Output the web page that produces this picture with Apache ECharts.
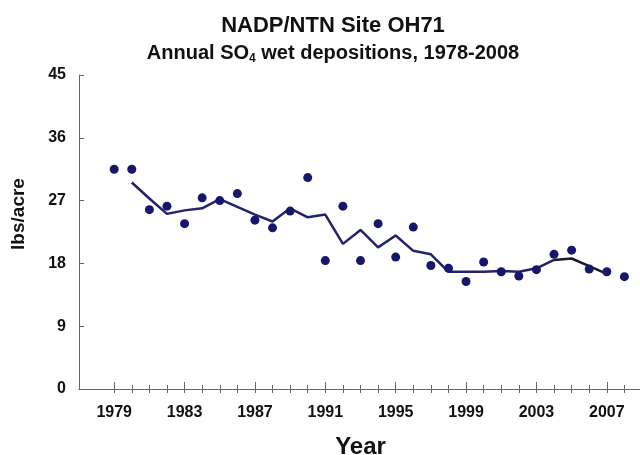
<!DOCTYPE html>
<html>
<head>
<meta charset="utf-8">
<title>NADP/NTN Site OH71</title>
<script src="https://cdn.jsdelivr.net/npm/echarts@6/dist/echarts.min.js"></script>
<style>
  html, body { margin: 0; padding: 0; background: #fff; }
  #chart { width: 640px; height: 455px; }
</style>
</head>
<body>
<div id="chart"></div>
<script>
// yearly values (dots)
const years = [1979, 1980, 1981, 1982, 1983, 1984, 1985, 1986, 1987, 1988,
  1989, 1990, 1991, 1992, 1993, 1994, 1995, 1996, 1997, 1998,
  1999, 2000, 2001, 2002, 2003, 2004, 2005, 2006, 2007, 2008];
const deposition = [31.5, 31.5, 25.7, 26.2, 23.7, 27.4, 27.0, 28.0, 24.2, 23.1,
  25.5, 30.3, 18.4, 26.2, 18.4, 23.7, 18.9, 23.2, 17.7, 17.3,
  15.4, 18.2, 16.8, 16.2, 17.1, 19.3, 19.9, 17.2, 16.8, 16.1];

// trend line (navy part, then black tail)
const trendYears = [1980, 1981, 1982, 1983, 1984, 1985, 1986, 1987, 1988, 1989,
  1990, 1991, 1992, 1993, 1994, 1995, 1996, 1997, 1998, 1999,
  2000, 2001, 2002, 2003, 2004];
const trendValues = [29.6, 27.3, 25.1, 25.6, 25.9, 27.2, 26.1, 25.0, 24.0, 25.9,
  24.6, 25.0, 20.8, 22.8, 20.3, 22.0, 19.8, 19.3, 16.8, 16.8,
  16.8, 16.9, 16.8, 17.3, 18.5];
const tailYears = [2004, 2005, 2006, 2007];
const tailValues = [18.5, 18.7, 17.6, 16.5];

// axis ticks
const tickYears = [1979, 1980, 1981, 1982, 1983, 1984, 1985, 1986, 1987, 1988,
  1989, 1990, 1991, 1992, 1993, 1994, 1995, 1996, 1997, 1998,
  1999, 2000, 2001, 2002, 2003, 2004, 2005, 2006, 2007, 2008];
const labelYears = [1979, 1983, 1987, 1991, 1995, 1999, 2003, 2007];
const yTicks = [0, 9, 18, 27, 36, 45];

function pairs(xs, ys) {
  let out = [];
  for (let i = 0; i < xs.length; i++) {
    out.push([xs[i], ys[i]]);
  }
  return out;
}

const font = "Liberation Sans, Arial, sans-serif";
const axisColor = "#666";
const textColor = "#111";

const baseX = {
  type: "value",
  min: 1977,
  max: 2009,
  position: "bottom",
  splitLine: { show: false },
  axisLine: { show: false },
  axisLabel: { show: false },
  axisTick: { show: false }
};

const option = {
  animation: false,
  backgroundColor: "#fff",
  title: [
    {
      text: "NADP/NTN Site OH71",
      left: 328,
      top: 10,
      textAlign: "center",
      textStyle: { fontFamily: font, fontSize: 22, fontWeight: "bold", color: textColor }
    },
    {
      text: "Annual SO{sub|4} wet depositions, 1978-2008",
      left: 328,
      top: 36,
      textAlign: "center",
      textStyle: {
        fontFamily: font, fontSize: 20, fontWeight: "bold", color: textColor,
        rich: {
          sub: { fontFamily: font, fontSize: 12, fontWeight: "bold", color: textColor, padding: [12, 0, 0, 0] }
        }
      }
    }
  ],
  graphic: [
    {
      type: "text",
      x: 19,
      y: 214,
      rotation: Math.PI / 2,
      style: {
        text: "lbs/acre",
        fontFamily: font, fontSize: 19, fontWeight: "bold", fill: textColor,
        align: "center", verticalAlign: "middle"
      }
    }
  ],
  grid: { left: 79, right: -2, top: 75, bottom: 66, containLabel: false, outerBoundsMode: "none" },
  xAxis: [
    {
      type: "value",
      min: 1977,
      max: 2009,
      name: "Year",
      nameLocation: "middle",
      nameGap: 46,
      nameTextStyle: { fontFamily: font, fontSize: 24, fontWeight: "bold", color: textColor },
      splitLine: { show: false },
      axisLine: { show: true, lineStyle: { color: axisColor, width: 1 } },
      axisTick: { show: true, inside: false, length: 4, customValues: tickYears, lineStyle: { color: axisColor } },
      axisLabel: {
        customValues: labelYears,
        formatter: function (v) { return String(v); },
        margin: 16,
        fontFamily: font, fontSize: 16, fontWeight: "bold", color: textColor
      }
    },
    Object.assign({}, baseX, {
      axisTick: { show: true, inside: true, length: 4, customValues: tickYears, lineStyle: { color: axisColor } }
    }),
    Object.assign({}, baseX, {
      axisTick: { show: true, inside: true, length: 7, customValues: labelYears, lineStyle: { color: axisColor } }
    })
  ],
  yAxis: {
    type: "value",
    min: 0,
    max: 45,
    interval: 9,
    splitLine: { show: false },
    axisLine: { show: true, lineStyle: { color: axisColor, width: 1 } },
    axisTick: { show: true, inside: true, length: 5, customValues: yTicks, lineStyle: { color: axisColor } },
    axisLabel: {
      customValues: yTicks,
      margin: 13,
      fontFamily: font, fontSize: 16, fontWeight: "bold", color: textColor
    }
  },
  series: [
    {
      type: "line",
      data: pairs(trendYears, trendValues),
      showSymbol: false,
      symbol: "none",
      lineStyle: { color: "#22226e", width: 2.5 },
      z: 2
    },
    {
      type: "line",
      data: pairs(tailYears, tailValues),
      showSymbol: false,
      symbol: "none",
      lineStyle: { color: "#1a1a2e", width: 2.5 },
      z: 2
    },
    {
      type: "scatter",
      data: pairs(years, deposition),
      symbol: "circle",
      symbolSize: 9,
      itemStyle: { color: "#16166a", opacity: 1 },
      z: 3
    }
  ]
};

const myChart = echarts.init(document.getElementById("chart"));
myChart.setOption(option);
</script>
</body>
</html>
